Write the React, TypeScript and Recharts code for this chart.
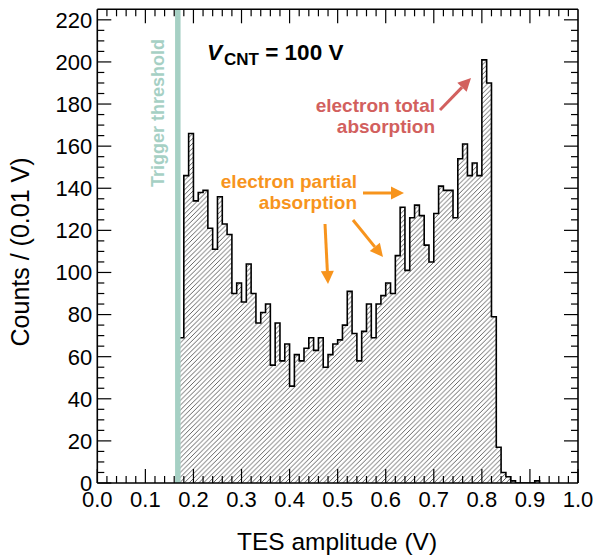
import React from 'react';
import { ComposedChart, Area, XAxis, YAxis, ReferenceLine } from 'recharts';

// histogram, 0.01 V bins, first bin starts at 0.17 V
const BIN_FIRST = 0.17;
const BIN_WIDTH = 0.01;
const COUNTS = [
  69, 146, 166, 134, 138, 139, 121, 111, 136, 123,
  118, 90, 95, 86, 104, 90, 76, 81, 85, 56,
  76, 58, 66, 46, 61, 58, 64, 69, 63, 69,
  55, 61, 66, 68, 75, 91, 71, 58, 72, 85,
  69, 85, 89, 95, 90, 108, 131, 101, 126, 132,
  127, 113, 105, 128, 141, 139, 139, 126, 154, 161,
  146, 152, 146, 201, 190, 79, 17, 5, 3, 1,
  0, 0, 0, 0, 1,
];
const THRESHOLD = 0.1675;

const X_TICKS = Array.from({ length: 51 }, (_, i) => i / 50);
const X_TICKS_TOP = X_TICKS.slice(1, -1);
const Y_TICKS = Array.from({ length: 45 }, (_, i) => i * 5);
const Y_TICKS_RIGHT = Y_TICKS.slice(1);

const FONT = '"Liberation Sans", Arial, Helvetica, sans-serif';
const COLORS = {
  frame: '#000',
  threshold: '#a6d0c4',
  partial: '#f7941d',
  total: '#d2605e',
};

const MAJOR = 14;
const MINOR = 7;

// step outline: start at baseline, one point per bin, close at baseline
const data = [
  { x: BIN_FIRST, c: 0 },
  ...COUNTS.map((c, i) => ({ x: BIN_FIRST + i * BIN_WIDTH, c })),
  { x: BIN_FIRST + COUNTS.length * BIN_WIDTH, c: 0 },
];

const isMajorX = (v: number) => Math.round(v * 50) % 5 === 0;
const isMajorY = (v: number) => Math.round(v) % 20 === 0;

function BottomTick(props: any) {
  const { x, y, payload } = props;
  const v = payload.value;
  const major = isMajorX(v);
  return (
    <g>
      <line x1={x} x2={x} y1={y} y2={y - (major ? MAJOR : MINOR)} stroke="#000" strokeWidth={1.2} />
      {major && (
        <text x={x} y={y + 24} textAnchor="middle" fontSize={22} fontFamily={FONT} fill="#000">
          {v.toFixed(1)}
        </text>
      )}
    </g>
  );
}

function TopTick(props: any) {
  const { x, y, payload } = props;
  const major = isMajorX(payload.value);
  return <line x1={x} x2={x} y1={y} y2={y + (major ? MAJOR : MINOR)} stroke="#000" strokeWidth={1.2} />;
}

function LeftTick(props: any) {
  const { x, y, payload } = props;
  const v = payload.value;
  const major = isMajorY(v);
  return (
    <g>
      <line x1={x} x2={x + (major ? MAJOR : MINOR)} y1={y} y2={y} stroke="#000" strokeWidth={1.2} />
      {major && (
        <text x={x - 5} y={y} dy="0.36em" textAnchor="end" fontSize={22} fontFamily={FONT} fill="#000">
          {v}
        </text>
      )}
    </g>
  );
}

function RightTick(props: any) {
  const { x, y, payload } = props;
  const major = isMajorY(payload.value);
  return <line x1={x} x2={x - (major ? MAJOR : MINOR)} y1={y} y2={y} stroke="#000" strokeWidth={1.2} />;
}

function Arrow({ x1, y1, x2, y2, color }: { x1: number; y1: number; x2: number; y2: number; color: string }) {
  const a = Math.atan2(y2 - y1, x2 - x1);
  const len = 13;
  const w = 6.5;
  const bx = x2 - len * Math.cos(a);
  const by = y2 - len * Math.sin(a);
  const px = -Math.sin(a) * w;
  const py = Math.cos(a) * w;
  return (
    <g>
      <line x1={x1} y1={y1} x2={bx} y2={by} stroke={color} strokeWidth={3} />
      <polygon points={`${x2},${y2} ${bx + px},${by + py} ${bx - px},${by - py}`} fill={color} />
    </g>
  );
}

export default function App() {
  return (
    <div style={{ position: 'absolute', left: 0, top: 0, width: 600, height: 560, background: '#fff' }}>
      <svg width={0} height={0} style={{ position: 'absolute' }}>
        <defs>
          <pattern id="hatch" patternUnits="userSpaceOnUse" width={4.8} height={4.8}>
            <path d="M0,4.8 L4.8,0 M-1,1 L1,-1 M3.8,5.8 L5.8,3.8" stroke="#222" strokeWidth={0.7} />
          </pattern>
        </defs>
      </svg>
      <ComposedChart
        width={600}
        height={560}
        data={data}
        accessibilityLayer={false}
        margin={{ top: 4.3, right: 16, bottom: 17, left: 7.3 }}
      >
        <XAxis
          xAxisId="b"
          dataKey="x"
          type="number"
          domain={[0, 1]}
          ticks={X_TICKS}
          interval={0}
          height={60}
          tickSize={0}
          tickMargin={0}
          tickLine={false}
          axisLine={{ stroke: COLORS.frame, strokeWidth: 1.6 }}
          tick={<BottomTick />}
          allowDataOverflow
        />
        <XAxis
          xAxisId="t"
          dataKey="x"
          orientation="top"
          type="number"
          domain={[0, 1]}
          ticks={X_TICKS_TOP}
          interval={0}
          height={5}
          tickSize={0}
          tickMargin={0}
          tickLine={false}
          axisLine={{ stroke: COLORS.frame, strokeWidth: 1.6 }}
          tick={<TopTick />}
          allowDataOverflow
        />
        <YAxis
          yAxisId="l"
          type="number"
          domain={[0, 225]}
          ticks={Y_TICKS}
          interval={0}
          width={90}
          tickSize={0}
          tickMargin={0}
          tickLine={false}
          axisLine={{ stroke: COLORS.frame, strokeWidth: 1.6 }}
          tick={<LeftTick />}
          allowDataOverflow
        />
        <YAxis
          yAxisId="r"
          orientation="right"
          type="number"
          domain={[0, 225]}
          ticks={Y_TICKS_RIGHT}
          interval={0}
          width={6}
          tickSize={0}
          tickMargin={0}
          tickLine={false}
          axisLine={{ stroke: COLORS.frame, strokeWidth: 1.6 }}
          tick={<RightTick />}
          allowDataOverflow
        />
        <Area
          xAxisId="b"
          yAxisId="l"
          dataKey="c"
          type="stepAfter"
          stroke="#000"
          strokeWidth={1.6}
          fill="url(#hatch)"
          fillOpacity={1}
          baseValue={0}
          dot={false}
          activeDot={false}
          isAnimationActive={false}
        />
        <ReferenceLine
          xAxisId="b"
          yAxisId="l"
          x={THRESHOLD}
          stroke={COLORS.threshold}
          strokeWidth={5.5}
        />
      </ComposedChart>
      <svg
        width={600}
        height={560}
        style={{ position: 'absolute', left: 0, top: 0, pointerEvents: 'none' }}
        fontFamily={FONT}
      >
        <text x={337} y={550} textAnchor="middle" fontSize={24.5} fill="#000">TES amplitude (V)</text>
        <text
          x={29}
          y={252}
          textAnchor="middle"
          fontSize={25}
          fill="#000"
          transform="rotate(-90, 29, 252)"
        >
          Counts / (0.01 V)
        </text>
        <text
          x={164}
          y={113}
          textAnchor="middle"
          fontSize={18}
          fontWeight="bold"
          fill={COLORS.threshold}
          transform="rotate(-90, 164, 113)"
        >
          Trigger threshold
        </text>
        <text x={207} y={60} fontSize={22.5} fontWeight="bold" fill="#000">
          <tspan fontStyle="italic">V</tspan>
          <tspan fontSize={17} dy={5} dx={2}>CNT</tspan>
          <tspan dy={-5}> = 100 V</tspan>
        </text>
        <text textAnchor="end" fontSize={19} fontWeight="bold" fill={COLORS.total}>
          <tspan x={435} y={112}>electron total</tspan>
          <tspan x={435} y={133}>absorption</tspan>
        </text>
        <Arrow x1={440} y1={110} x2={471} y2={78} color={COLORS.total} />
        <text textAnchor="end" fontSize={19} fontWeight="bold" fill={COLORS.partial}>
          <tspan x={357} y={188}>electron partial</tspan>
          <tspan x={357} y={209}>absorption</tspan>
        </text>
        <Arrow x1={363} y1={193} x2={404} y2={193} color={COLORS.partial} />
        <Arrow x1={353} y1={220} x2={383} y2={257} color={COLORS.partial} />
        <Arrow x1={325} y1={224} x2={328} y2={284} color={COLORS.partial} />
      </svg>
    </div>
  );
}
